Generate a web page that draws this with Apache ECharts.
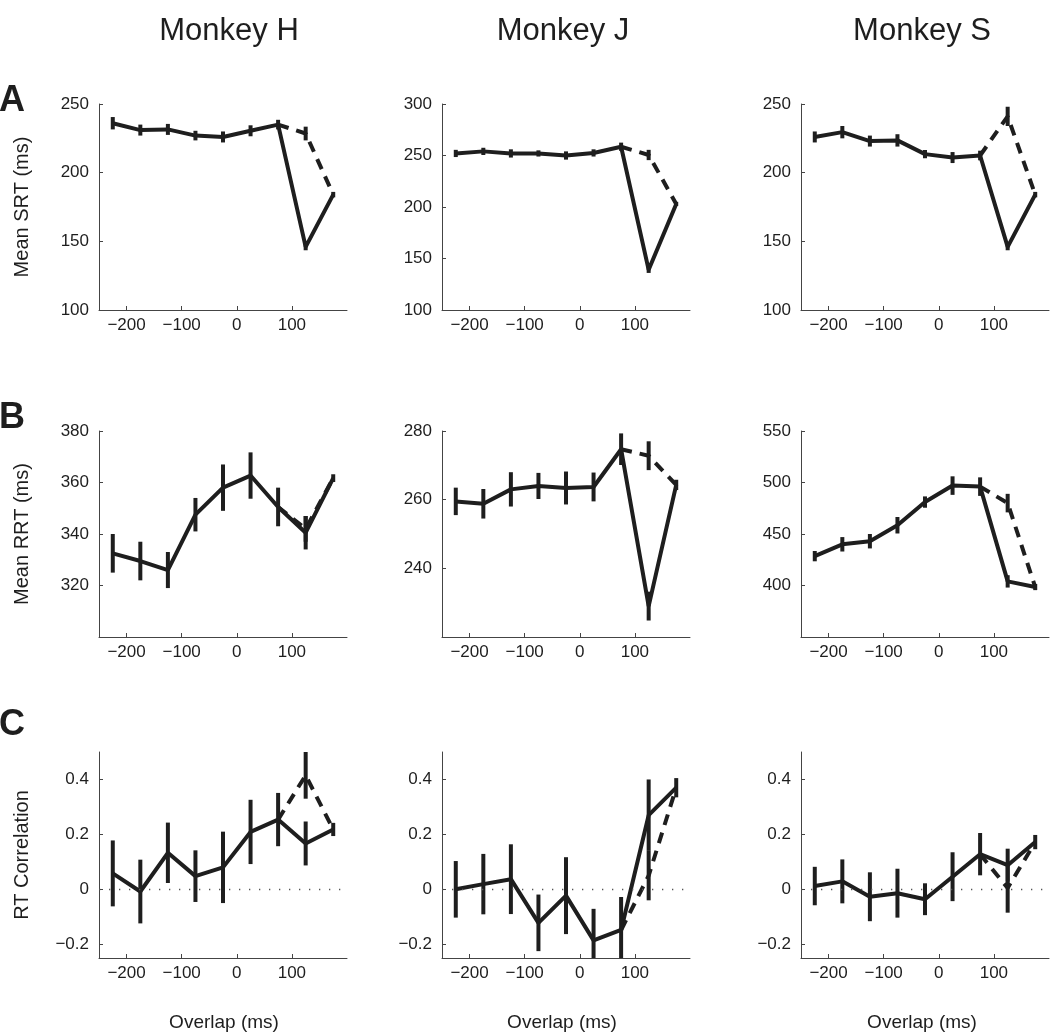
<!DOCTYPE html>
<html>
<head>
<meta charset="utf-8">
<script src="https://cdn.jsdelivr.net/npm/echarts@6/dist/echarts.min.js"></script>
<style>
html,body{margin:0;padding:0;background:#fff;}
#chart{width:1050px;height:1034px;}
</style>
</head>
<body>
<div id="chart"></div>
<script>
// ---- Data ----
const overlap = [-225, -175, -125, -75, -25, 25, 75, 125, 175];
const monkeys = ['Monkey H', 'Monkey J', 'Monkey S'];
const rowLetters = ['A', 'B', 'C'];
const rowTitles = ['Mean SRT (ms)', 'Mean RRT (ms)', 'RT Correlation'];
const xTicks = [-200, -100, 0, 100];

// Row A: mean saccade RT (solid) + error
const srtH = [236, 231, 231.5, 227, 226, 230.5, 235, 146, 184];
const srtHErr = [4.5, 4, 4, 3.5, 4, 4, 3.5, 2.5, 2];
const srtJ = [252, 254, 252, 252, 250, 252.5, 258.5, 139, 203];
const srtJErr = [3.5, 3.5, 4, 3, 4, 3.5, 4, 3, 2];
const srtS = [226, 229.5, 223, 223.5, 213.5, 211, 212.5, 146, 184];
const srtSErr = [4, 4.5, 4, 4.5, 3, 4, 3.5, 2.5, 2];
// dashed condition at overlap 125 (value, error)
const srtDash125 = [228.5, 250.5, 241];
const srtDash125Err = [5, 5, 7];

// Row B: mean reach RT
const rrtH = [332.5, 329.5, 326, 347.5, 358, 362.7, 350.5, 340.5, 361.7];
const rrtHErr = [7.5, 7.5, 7, 6.5, 9, 9, 7.5, 6.5, 1.5];
const rrtJ = [259.5, 258.8, 263, 264, 263.4, 263.7, 274.7, 229, 264.3];
const rrtJErr = [4, 4.3, 5, 3.8, 4.8, 4.2, 4.6, 4.2, 1.5];
const rrtS = [428.5, 440, 443, 458.5, 481, 497, 496, 404, 398.5];
const rrtSErr = [5, 7, 7, 8, 5.5, 9, 9, 6, 3];
const rrtDash125 = [342, 272.8, 480];
const rrtDash125Err = [5, 4.2, 9];

// Row C: RT correlation
const corH = [0.058, -0.008, 0.133, 0.048, 0.08, 0.209, 0.254, 0.167, 0.218];
const corHErr = [0.12, 0.116, 0.11, 0.094, 0.13, 0.117, 0.097, 0.08, 0.024];
const corJ = [0.0, 0.019, 0.037, -0.122, -0.023, -0.186, -0.148, 0.27, 0.37];
const corJErr = [0.103, 0.11, 0.127, 0.103, 0.14, 0.115, 0.12, 0.13, 0.035];
const corS = [0.012, 0.029, -0.027, -0.014, -0.036, 0.046, 0.128, 0.088, 0.172];
const corSErr = [0.07, 0.08, 0.089, 0.089, 0.058, 0.089, 0.077, 0.06, 0.026];
const corDash125 = [0.415, 0.05, 0.005];
const corDash125Err = [0.085, 0.09, 0.09];

// y axis ranges and tick labels per panel [row][col]
const yRanges = [
  [[100, 250], [100, 300], [100, 250]],
  [[300, 380], [220, 280], [350, 550]],
  [[-0.25, 0.5], [-0.25, 0.5], [-0.25, 0.5]]
];
const yTicks = [
  [[100, 150, 200, 250], [100, 150, 200, 250, 300], [100, 150, 200, 250]],
  [[320, 340, 360, 380], [240, 260, 280], [400, 450, 500, 550]],
  [[-0.2, 0, 0.2, 0.4], [-0.2, 0, 0.2, 0.4], [-0.2, 0, 0.2, 0.4]]
];

const rowData = [
  { vals: [srtH, srtJ, srtS], errs: [srtHErr, srtJErr, srtSErr], d: srtDash125, de: srtDash125Err },
  { vals: [rrtH, rrtJ, rrtS], errs: [rrtHErr, rrtJErr, rrtSErr], d: rrtDash125, de: rrtDash125Err },
  { vals: [corH, corJ, corS], errs: [corHErr, corJErr, corSErr], d: corDash125, de: corDash125Err }
];

// ---- Layout ----
const FONT = '"Liberation Sans", Arial, Helvetica, sans-serif';
const INK = '#1e1e1e';
const gridLefts = [99, 442, 801];
const gridTops = [104, 431, 752];
const GW = 248, GH = 206;

const fmtNum = v => String(v).replace('-', '\u2212');

const grids = [], xAxes = [], yAxes = [], series = [];
let idx = 0;
for (let r = 0; r < 3; r++) {
  for (let c = 0; c < 3; c++) {
    grids.push({ left: gridLefts[c], top: gridTops[r], width: GW, height: GH });
    xAxes.push({
      gridIndex: idx, type: 'value', min: -250, max: 200,
      axisLine: { show: true, onZero: false, lineStyle: { color: '#444', width: 1 } },
      axisTick: { show: true, inside: true, length: 4, customValues: xTicks, lineStyle: { color: '#444' } },
      axisLabel: { customValues: xTicks, formatter: fmtNum, fontSize: 17, color: INK, fontFamily: FONT, margin: 7 },
      splitLine: { show: false }
    });
    yAxes.push({
      gridIndex: idx, type: 'value', min: yRanges[r][c][0], max: yRanges[r][c][1],
      axisLine: { show: true, onZero: false, lineStyle: { color: '#444', width: 1 } },
      axisTick: { show: true, inside: true, length: 4, customValues: yTicks[r][c], lineStyle: { color: '#444' } },
      axisLabel: { customValues: yTicks[r][c], formatter: fmtNum, fontSize: 17, color: INK, fontFamily: FONT, margin: 10 },
      splitLine: { show: false }
    });
    const vals = rowData[r].vals[c], errs = rowData[r].errs[c];
    const dv = rowData[r].d[c], de = rowData[r].de[c];
    // solid line
    series.push({
      type: 'line', xAxisIndex: idx, yAxisIndex: idx, symbol: 'none', animation: false,
      data: overlap.map((x, i) => [x, vals[i]]),
      lineStyle: { color: INK, width: 4 },
      markLine: r === 2 ? {
        silent: true, symbol: 'none', animation: false, label: { show: false },
        lineStyle: { color: '#555', width: 1.3, type: [1.3, 8.7] },
        data: [{ yAxis: 0 }]
      } : undefined,
      z: 3
    });
    // dashed line (condition differing at overlap 125)
    series.push({
      type: 'line', xAxisIndex: idx, yAxisIndex: idx, symbol: 'none', animation: false,
      data: [[overlap[6], vals[6]], [overlap[7], dv], [overlap[8], vals[8]]],
      lineStyle: { color: INK, width: 4, type: [11, 8] },
      z: 3
    });
    // error bars
    const ebData = overlap.map((x, i) => [x, vals[i] - errs[i], vals[i] + errs[i]]);
    ebData.push([overlap[7], dv - de, dv + de]);
    series.push({
      type: 'custom', xAxisIndex: idx, yAxisIndex: idx, animation: false, clip: true,
      data: ebData,
      encode: { x: 0, y: [1, 2] },
      renderItem: (params, api) => {
        const p1 = api.coord([api.value(0), api.value(1)]);
        const p2 = api.coord([api.value(0), api.value(2)]);
        return { type: 'line', shape: { x1: p1[0], y1: p1[1], x2: p2[0], y2: p2[1] },
                 style: { stroke: INK, lineWidth: 4 } };
      },
      z: 4
    });
    idx++;
  }
}

const graphics = [];
const colCenters = [229, 563, 922];
monkeys.forEach((m, c) => graphics.push({
  type: 'text', x: colCenters[c], y: 31,
  style: { text: m, fontSize: 31, fontFamily: FONT, fill: INK, align: 'center', verticalAlign: 'middle' }
}));
const letterY = [101, 418, 725];
rowLetters.forEach((L, r) => graphics.push({
  type: 'text', x: 12, y: letterY[r],
  style: { text: L, fontSize: 36, fontWeight: 'bold', fontFamily: FONT, fill: INK, align: 'center', verticalAlign: 'middle' }
}));
rowTitles.forEach((t, r) => graphics.push({
  type: 'text', x: 22, y: gridTops[r] + GH / 2, rotation: Math.PI / 2,
  style: { text: t, fontSize: 20, fontFamily: FONT, fill: INK, align: 'center', verticalAlign: 'middle' }
}));
const xTitleCenters = [224, 562, 922];
xTitleCenters.forEach(cx => graphics.push({
  type: 'text', x: cx, y: 1023,
  style: { text: 'Overlap (ms)', fontSize: 19, fontFamily: FONT, fill: INK, align: 'center', verticalAlign: 'middle' }
}));

const chart = echarts.init(document.getElementById('chart'), null, { renderer: 'canvas' });
chart.setOption({
  animation: false,
  backgroundColor: '#fff',
  textStyle: { fontFamily: FONT },
  grid: grids, xAxis: xAxes, yAxis: yAxes, series: series,
  graphic: graphics
});
</script>
</body>
</html>
